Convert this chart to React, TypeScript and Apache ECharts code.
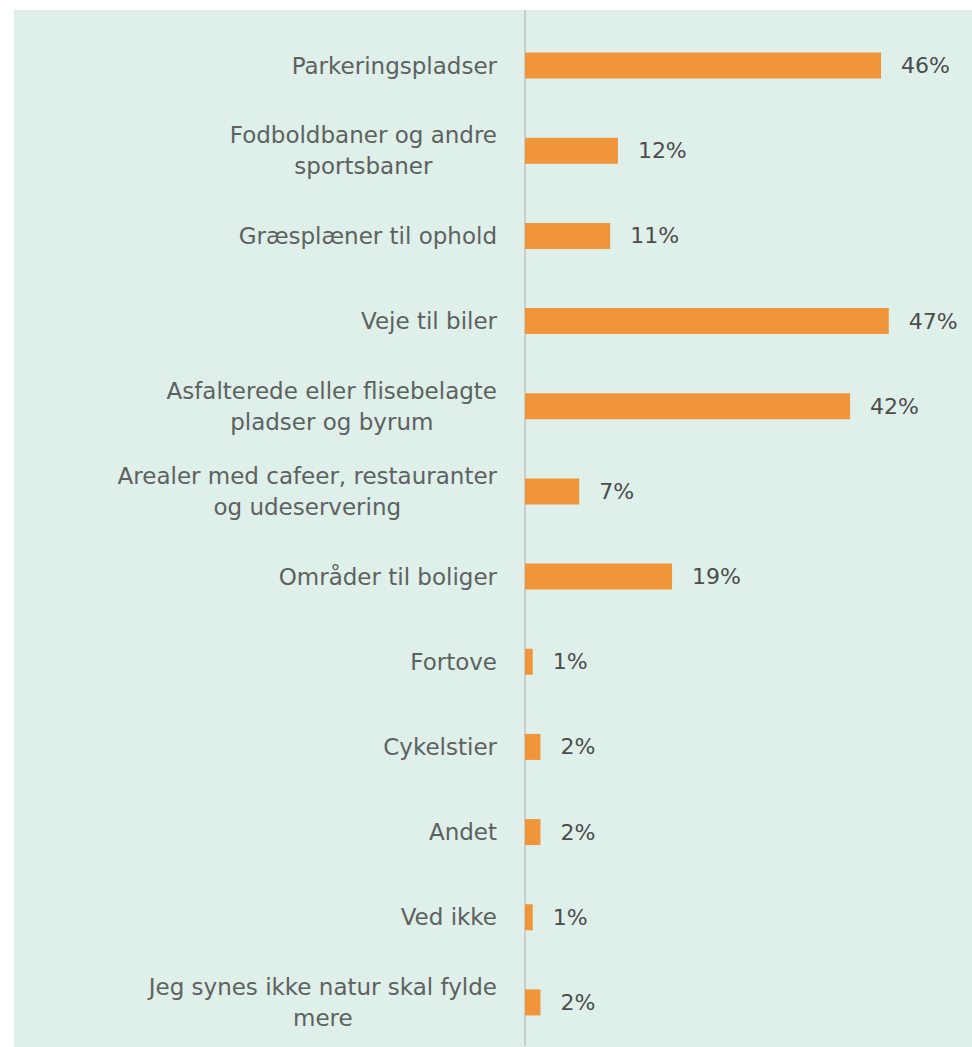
import React, { useEffect, useRef } from "react";
import * as echarts from "echarts";

const categories: string[] = [
  "Parkeringspladser",
  "Fodboldbaner og andre\nsportsbaner",
  "Græsplæner til ophold",
  "Veje til biler",
  "Asfalterede eller flisebelagte\npladser og byrum",
  "Arealer med cafeer, restauranter\nog udeservering",
  "Områder til boliger",
  "Fortove",
  "Cykelstier",
  "Andet",
  "Ved ikke",
  "Jeg synes ikke natur skal fylde\nmere",
];

const values: number[] = [46, 12, 11, 47, 42, 7, 19, 1, 2, 2, 1, 2];

const FONT = "'DejaVu Sans', sans-serif";

export default function App() {
  const ref = useRef<HTMLDivElement>(null);

  useEffect(() => {
    if (!ref.current) return;
    const chart = echarts.init(ref.current, null, { renderer: "svg" });
    chart.setOption({
      animation: false,
      backgroundColor: "#ffffff",
      graphic: [
        {
          type: "rect",
          z: -10,
          silent: true,
          shape: { x: 14, y: 10, width: 972 - 14, height: 1047 - 10 },
          style: { fill: "#dfefe9" },
        },
        {
          type: "line",
          z: -5,
          silent: true,
          shape: { x1: 525, y1: 10, x2: 525, y2: 24 },
          style: { stroke: "#c9cfcc", lineWidth: 2 },
        },
      ],
      grid: { left: 525, top: 23, width: 387, height: 1022 },
      xAxis: {
        type: "value",
        min: 0,
        max: 50,
        show: false,
      },
      yAxis: {
        type: "category",
        inverse: true,
        data: categories,
        axisLine: { show: true, lineStyle: { color: "#c9cfcc", width: 2 } },
        axisTick: { show: false },
        axisLabel: {
          margin: 28,
          color: "#5d625f",
          fontFamily: FONT,
          fontSize: 23,
          align: "right",
          lineHeight: 31,
          formatter: (v: string) =>
            v
              .split("\n")
              .map((l) => "{c|" + l + "}")
              .join("\n"),
          rich: {
            c: {
              align: "center",
              color: "#5d625f",
              fontFamily: FONT,
              fontSize: 23,
              lineHeight: 31,
            },
          },
        },
      },
      series: [
        {
          type: "bar",
          data: values,
          barWidth: 26,
          itemStyle: { color: "#f0953a" },
          label: {
            show: true,
            position: "right",
            distance: 20,
            formatter: "{c}%",
            color: "#4a4d4b",
            fontFamily: FONT,
            fontSize: 22,
          },
        },
      ],
    });
    return () => chart.dispose();
  }, []);

  return (
    <div
      ref={ref}
      style={{ position: "fixed", left: 0, top: 0, width: 972, height: 1047 }}
    />
  );
}
